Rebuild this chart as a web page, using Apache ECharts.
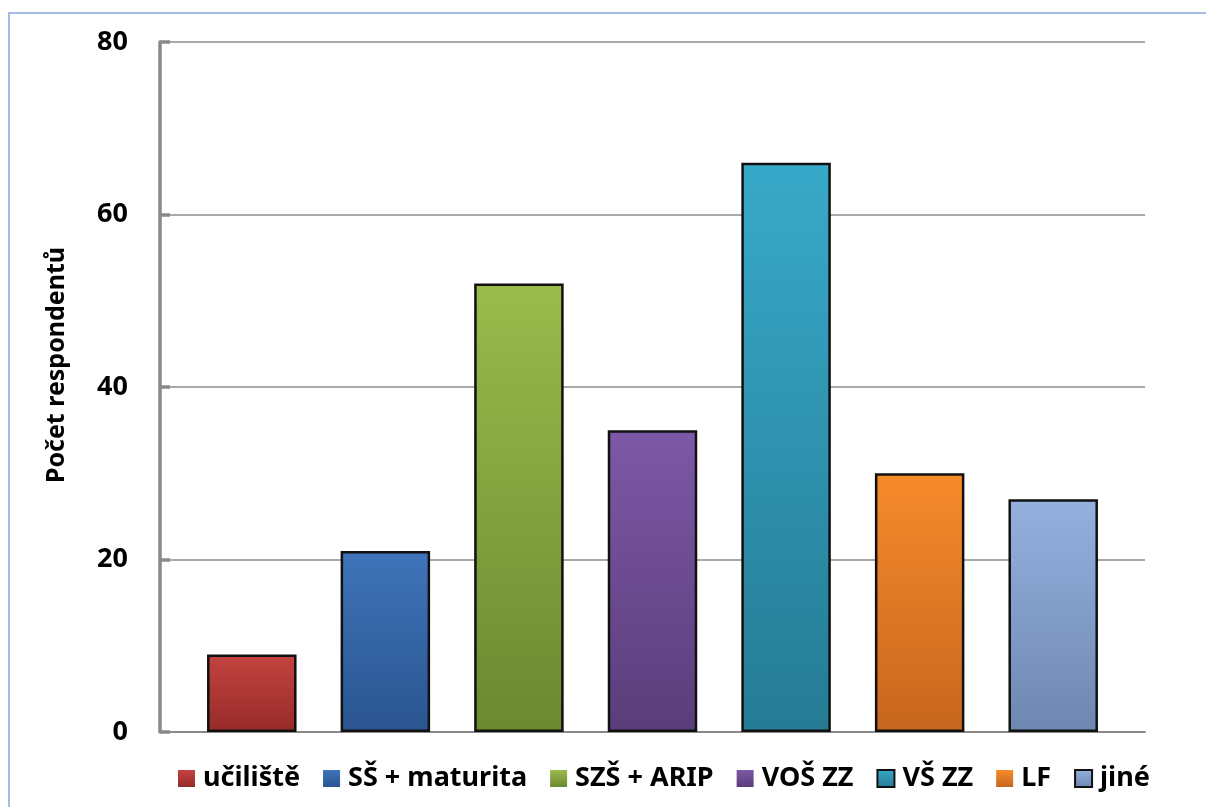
<!DOCTYPE html>
<html>
<head>
<meta charset="utf-8">
<script src="https://cdn.jsdelivr.net/npm/echarts@6/dist/echarts.min.js"></script>
<style>
  html, body { margin: 0; padding: 0; background: #fff; overflow: hidden; }
  #frame { position: absolute; left: 8px; top: 12px; width: 1300px; height: 900px;
           border: 2px solid #a3bbe8; box-sizing: border-box; }
  #chart { position: absolute; left: 0; top: 0; width: 1206px; height: 807px; }
</style>
</head>
<body>
<div id="frame"></div>
<div id="chart"></div>
<script>
// Respondents by highest completed education
const categories = ['učiliště', 'SŠ + maturita', 'SZŠ + ARIP', 'VOŠ ZZ', 'VŠ ZZ', 'LF', 'jiné'];
const values = [9, 21, 52, 35, 66, 30, 27];
const yTicks = [0, 20, 40, 60, 80];
const topColors = ['#c4433f', '#3f74b9', '#9abb4c', '#7d58a6', '#38a9c9', '#f78b2b', '#94b1de'];
const bottomColors = ['#962b29', '#2a5590', '#6c8831', '#5a3d7a', '#257b94', '#c6661e', '#6e87b1'];
const yName = 'Počet respondentů';

const font = '"Noto Sans", "Open Sans", sans-serif';

function barFill(i) {
  return new echarts.graphic.LinearGradient(0, 0, 0, 1, [
    { offset: 0, color: topColors[i] },
    { offset: 1, color: bottomColors[i] }
  ]);
}

const series = categories.map((name, i) => ({
  name: name,
  type: 'bar',
  xAxisIndex: 1,
  yAxisIndex: 1,
  stack: 'edu',
  barWidth: '67%',
  data: categories.map((c, j) => (j === i ? values[i] : '-')),
  itemStyle: {
    color: barFill(i),
    borderColor: '#111',
    borderWidth: 2.5
  },
  emphasis: { disabled: true }
}));

const chart = echarts.init(document.getElementById('chart'), null, { renderer: 'canvas' });
chart.setOption({
  animation: false,
  backgroundColor: 'transparent',
  grid: [
    { left: 160, right: 61, top: 42, bottom: 75 },
    { left: 185, right: 86, top: 42, bottom: 75 }
  ],
  xAxis: [
    {
      type: 'category', gridIndex: 0, data: [''],
      axisLine: { lineStyle: { color: '#8a8a8a', width: 2 } },
      axisTick: { inside: true, length: 10, lineStyle: { color: '#8a8a8a', width: 2 } },
      axisLabel: { show: false }
    },
    {
      type: 'category', gridIndex: 1, data: categories,
      axisLine: { show: false }, axisTick: { show: false }, axisLabel: { show: false }
    }
  ],
  yAxis: [
    {
      type: 'value', gridIndex: 0, min: 0, max: 80, interval: 20,
      name: yName,
      nameLocation: 'middle',
      nameGap: 91,
      nameTextStyle: { fontFamily: font, fontWeight: 'bold', fontSize: 25, color: '#000', padding: [0, 0, 0, 44] },
      axisLine: { show: true, lineStyle: { color: '#898989', width: 3.5 } },
      axisTick: { show: true, inside: true, length: 10, lineStyle: { color: '#898989', width: 3.5 } },
      axisLabel: {
        margin: 32, fontFamily: font, fontWeight: 'bold', fontSize: 27, color: '#000',
        formatter: v => (yTicks.indexOf(v) >= 0 ? String(v) : '')
      },
      splitLine: { show: true, lineStyle: { color: '#8c8c8c', width: 1.5 } }
    },
    {
      type: 'value', gridIndex: 1, min: 0, max: 80, interval: 20,
      axisLine: { show: false }, axisTick: { show: false }, axisLabel: { show: false },
      splitLine: { show: false }
    }
  ],
  legend: {
    top: 760,
    left: 173,
    itemWidth: 17,
    itemHeight: 17,
    itemGap: 23,
    icon: 'rect',
    textStyle: { fontFamily: font, fontWeight: 'bold', fontSize: 27, color: '#000', padding: [0, 0, 0, 3] },
    data: categories.map((c, i) => ({
      name: c,
      itemStyle: { borderWidth: (i === 4 || i === 6) ? 2 : 0, borderColor: '#111' }
    }))
  },
  series: series
});
</script>
</body>
</html>
